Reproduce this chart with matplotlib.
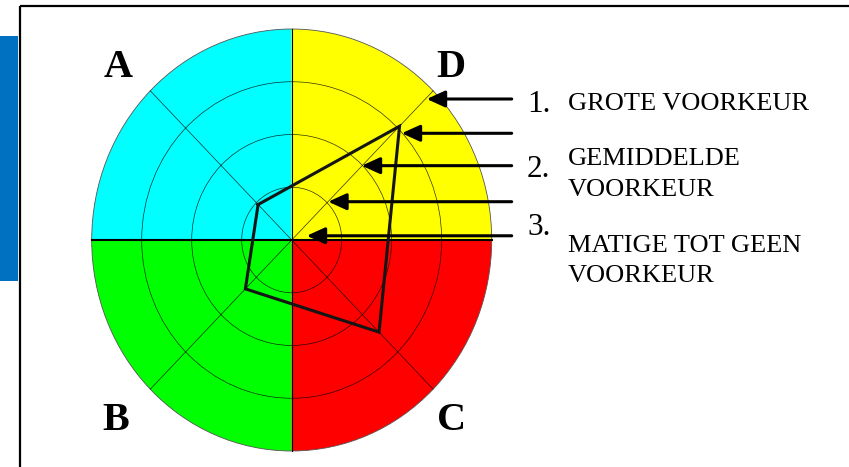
import numpy as np
import matplotlib
matplotlib.use("Agg")
import matplotlib.pyplot as plt
from matplotlib.patches import Wedge, Circle, Rectangle

plt.rcParams['font.family'] = ['Liberation Serif', 'DejaVu Serif']

# quadrants of the diagram and the score (ring level 0-4) of each
quadrants = ['A', 'B', 'C', 'D']
quad_colors = ['#00ffff', '#00ff00', '#ff0000', '#ffff00']
quad_start = [90, 180, 270, 0]          # wedge start angle (deg)
scores = [0.95, 1.31, 2.47, 3.05]
score_angle = [135, 225, 315, 45]
profile_order = ['A', 'D', 'C', 'B']

rings = [1, 2, 3]
outer = 4

# arrow targets (data coords) and legend texts
arrow_x = [2.70, 2.20, 1.40, 0.73, 0.30]
arrow_y = [2.673, 2.023, 1.409, 0.726, 0.08]
legend_nums = ['1.', '2.', '3.']
legend_texts = ['GROTE VOORKEUR', 'GEMIDDELDE\nVOORKEUR', 'MATIGE TOT GEEN\nVOORKEUR']

W, H = 849, 467
fig = plt.figure(figsize=(W / 100, H / 100), dpi=100)

# background / frame axes in pixel units
bg = fig.add_axes([0, 0, 1, 1])
bg.set_xlim(0, W)
bg.set_ylim(H, 0)
bg.axis('off')
bg.add_patch(Rectangle((0, 36), 18, 245, color='#0070c0', lw=0))
bg.plot([20, W], [6, 6], color='black', lw=1.6, solid_capstyle='butt')
bg.plot([20, 20], [6, H], color='black', lw=1.6, solid_capstyle='butt')

# diagram axes: centre at (291.7, 240) px, 50 px per unit in x, 52.75 in y
cx, cy, sx, sy = 291.7, 240, 50.0, 52.75
lim = 4.5
ax = fig.add_axes([(cx - lim * sx) / W, (H - cy - lim * sy) / H,
                   2 * lim * sx / W, 2 * lim * sy / H])
ax.set_xlim(-lim, lim)
ax.set_ylim(-lim, lim)
ax.axis('off')

for q, c, a0 in zip(quadrants, quad_colors, quad_start):
    ax.add_patch(Wedge((0, 0), outer, a0, a0 + 90, facecolor=c, edgecolor='none'))
ax.add_patch(Circle((0, 0), outer, fill=False, edgecolor='#555555', lw=0.6))
for r in rings:
    ax.add_patch(Circle((0, 0), r, fill=False, edgecolor='black', lw=0.5, alpha=0.8))
for a in [45, 135, 225, 315]:
    t = np.radians(a)
    ax.plot([0, outer * np.cos(t)], [0, outer * np.sin(t)], color='black', lw=0.5, alpha=0.8)
ax.plot([0, 0], [-outer, outer], color='black', lw=0.8)
ax.plot([-outer, outer], [0, 0], color='black', lw=1.5)

# profile polygon
sc = dict(zip(quadrants, scores))
ang = dict(zip(quadrants, score_angle))
px = [sc[q] * np.cos(np.radians(ang[q])) for q in profile_order]
py = [sc[q] * np.sin(np.radians(ang[q])) for q in profile_order]
ax.plot(px + px[:1], py + py[:1], color='#151515', lw=2.2, solid_joinstyle='miter')

# arrows
for x, y in zip(arrow_x, arrow_y):
    ax.annotate('', xy=(x, y), xytext=(4.4, y),
                arrowprops=dict(arrowstyle='-|>,head_length=1.1,head_width=0.5',
                                mutation_scale=10, lw=2.2, color='black',
                                shrinkA=0, shrinkB=0), annotation_clip=False)

# quadrant letters
letter_pos = {'A': (117.7, 76.7), 'D': (450.8, 76.7), 'B': (115.8, 429.5), 'C': (451.3, 430)}
for q in quadrants:
    x, y = letter_pos[q]
    bg.text(x, y, q, fontsize=29, fontweight='bold', ha='center', va='baseline')

# legend text
num_y = [111.5, 176.7, 235]
txt_y = [110, 165, 251.7]
for n, t, ny, ty in zip(legend_nums, legend_texts, num_y, txt_y):
    bg.text(527, ny, n, fontsize=22.5, ha='left', va='baseline')
    lines = t.split('\n')
    for i, ln in enumerate(lines):
        bg.text(568, ty + i * 30.5, ln, fontsize=19, ha='left', va='baseline')

fig.savefig('out.png', dpi=100)
